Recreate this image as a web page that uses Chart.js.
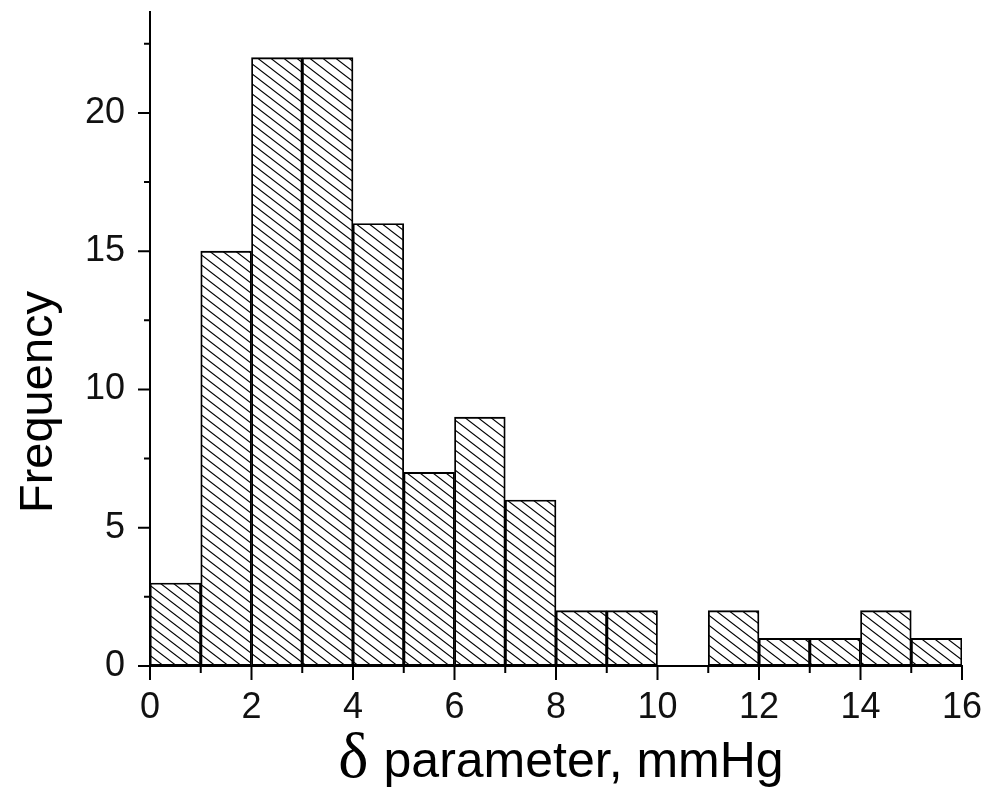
<!DOCTYPE html>
<html>
<head>
<meta charset="utf-8">
<script src="https://cdn.jsdelivr.net/npm/chart.js@4/dist/chart.umd.min.js"></script>
<style>
  html, body { margin: 0; padding: 0; background: #fff; }
  canvas { display: block; }
</style>
</head>
<body>
<canvas id="hist" width="987" height="795"></canvas>
<script>
// Histogram bins (left edge of each 1 mmHg bin) and counts
const binStarts = [0, 1, 2, 3, 4, 5, 6, 7, 8, 9, 10, 11, 12, 13, 14, 15];
const frequency = [3, 15, 22, 22, 16, 7, 9, 6, 2, 2, 0, 2, 1, 1, 2, 1];
const binWidth = 1;

// Axis ticks
const xMajorTicks = [0, 2, 4, 6, 8, 10, 12, 14, 16];
const xMinorTicks = [1, 3, 5, 7, 9, 11, 13, 15];
const yMajorTicks = [0, 5, 10, 15, 20];
const yMinorTicks = [2.5, 7.5, 12.5, 17.5, 22.5];

const yTitle = 'Frequency';
const xTitleSymbol = 'δ';
const xTitleText = 'parameter, mmHg';

const sansFont = "'Liberation Sans', Arial, sans-serif";
const serifFont = "'Liberation Serif', 'Times New Roman', serif";

// Diagonal hatch like the original fill
function makeHatch() {
  const w = 13, h = 10;
  const c = document.createElement('canvas');
  c.width = w; c.height = h;
  const g = c.getContext('2d');
  g.strokeStyle = '#000';
  g.lineWidth = 1.1;
  g.beginPath();
  g.moveTo(-w, -h); g.lineTo(2 * w, 2 * h);
  g.moveTo(-w, 0); g.lineTo(w, 2 * h);
  g.moveTo(0, -h); g.lineTo(2 * w, h);
  g.stroke();
  return g.createPattern(c, 'repeat');
}

// drop the extra room chart.js keeps for overflowing labels
function noPad(scale) {
  scale.paddingTop = 0;
  scale.paddingBottom = 0;
  scale.paddingLeft = 0;
  scale.paddingRight = 0;
}

const ctx = document.getElementById('hist').getContext('2d');

// Tick marks (major + minor) and axis titles
const axisDecor = {
  id: 'axisDecor',
  afterDraw(chart) {
    const { ctx, chartArea, scales } = chart;
    const x = scales.x, y = scales.y;
    ctx.save();
    ctx.strokeStyle = '#000';
    ctx.lineWidth = 2;
    ctx.beginPath();
    xMajorTicks.forEach(v => {
      const px = x.getPixelForValue(v);
      ctx.moveTo(px, chartArea.bottom); ctx.lineTo(px, chartArea.bottom + 14);
    });
    xMinorTicks.forEach(v => {
      const px = x.getPixelForValue(v);
      ctx.moveTo(px, chartArea.bottom); ctx.lineTo(px, chartArea.bottom + 7);
    });
    yMajorTicks.forEach(v => {
      const py = y.getPixelForValue(v);
      ctx.moveTo(chartArea.left, py); ctx.lineTo(chartArea.left - 12, py);
    });
    yMinorTicks.forEach(v => {
      const py = y.getPixelForValue(v);
      ctx.moveTo(chartArea.left, py); ctx.lineTo(chartArea.left - 6, py);
    });
    ctx.stroke();

    // y title
    ctx.fillStyle = '#000';
    ctx.font = '47px ' + sansFont;
    ctx.textAlign = 'center';
    ctx.textBaseline = 'alphabetic';
    ctx.translate(52, (chartArea.top + chartArea.bottom) / 2 + 63);
    ctx.rotate(-Math.PI / 2);
    ctx.fillText(yTitle, 0, 0);
    ctx.setTransform(1, 0, 0, 1, 0, 0);

    // x title with serif delta
    ctx.textAlign = 'left';
    ctx.font = '64px ' + serifFont;
    const wSym = ctx.measureText(xTitleSymbol).width;
    ctx.font = '50px ' + sansFont;
    const wGap = 15;
    const wText = ctx.measureText(xTitleText).width;
    const total = wSym + wGap + wText;
    const startX = (chartArea.left + chartArea.right) / 2 + 5 - total / 2;
    const base = 777;
    ctx.font = '64px ' + serifFont;
    ctx.fillText(xTitleSymbol, startX, base);
    ctx.font = '50px ' + sansFont;
    ctx.fillText(xTitleText, startX + wSym + wGap, base);
    ctx.restore();
  }
};

const chart = new Chart(ctx, {
  type: 'bar',
  data: {
    datasets: [{
      label: yTitle,
      data: binStarts.map((s, i) => ({ x: s + binWidth / 2, y: frequency[i] })),
      backgroundColor: makeHatch(),
      borderColor: '#000',
      borderWidth: 1.2,
      borderSkipped: false,
      barPercentage: 1,
      categoryPercentage: 1,
    }],
  },
  options: {
    responsive: false,
    devicePixelRatio: 1,
    animation: false,
    layout: {
      padding: { top: 12, right: 25, bottom: 0, left: 0 },
    },
    plugins: {
      legend: { display: false },
      tooltip: { enabled: false },
    },
    scales: {
      x: {
        type: 'linear',
        min: 0,
        max: 16,
        offset: false,
        grid: { display: true, drawOnChartArea: false, drawTicks: false },
        border: { display: true, color: '#000', width: 2 },
        ticks: {
          stepSize: 2,
          padding: 20,
          color: '#111',
          font: { family: sansFont, size: 36 },
          maxRotation: 0,
        },
        afterFit(scale) { scale.height = 129; noPad(scale); },
      },
      y: {
        min: 0,
        max: 23.65,
        grid: { display: true, drawOnChartArea: false, drawTicks: false },
        border: { display: true, color: '#000', width: 2 },
        ticks: {
          stepSize: 5,
          includeBounds: false,
          padding: 25,
          color: '#111',
          font: { family: sansFont, size: 36 },
          callback: (v) => (yMajorTicks.includes(v) ? v : ''),
        },
        afterFit(scale) { scale.width = 150; noPad(scale); },
      },
    },
  },
  plugins: [axisDecor],
});
</script>
</body>
</html>
